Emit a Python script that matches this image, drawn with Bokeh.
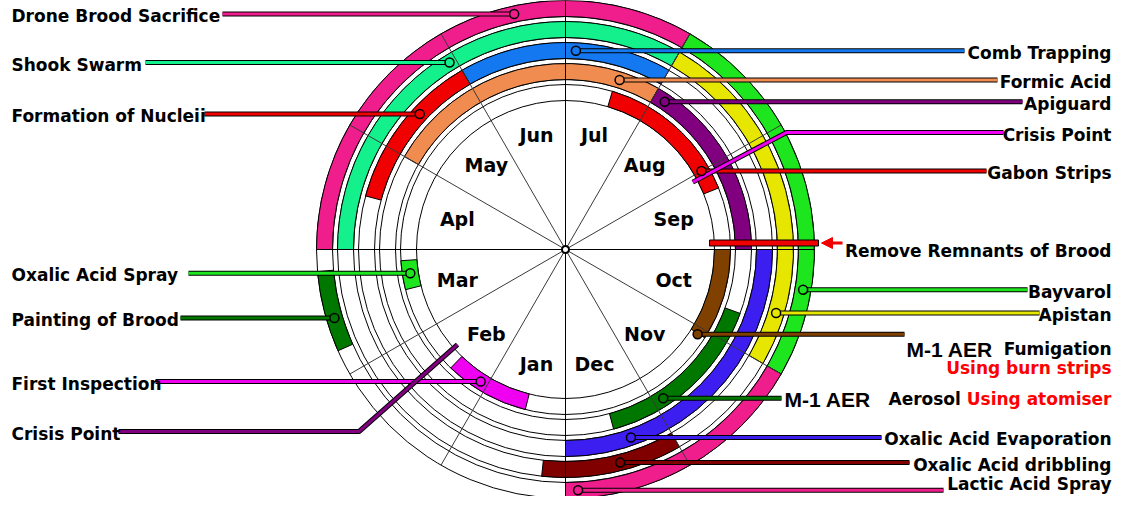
import math
from bokeh.plotting import figure
from bokeh.models import Range1d, Arrow, NormalHead
from bokeh.core.properties import value
from bokeh.embed import file_html
from bokeh.resources import INLINE

# ---------------- data ----------------
# month positions: 0 = 1 Jan, 12 = 31 Dec (fractional months)
months = ["Jan", "Feb", "Mar", "Apl", "May", "Jun", "Jul", "Aug", "Sep", "Oct", "Nov", "Dec"]

treatments = ["Drone Brood Sacrifice", "Bayvarol", "Lactic Acid Spray", "Painting of Brood",
              "Shook Swarm", "Apistan", "Oxalic Acid dribbling",
              "Comb Trapping", "Formation of Nucleii", "Oxalic Acid Evaporation",
              "Formic Acid", "Apiguard", "M-1 AER Aerosol",
              "Gabon Strips", "M-1 AER Fumigation", "First Inspection", "Oxalic Acid Spray"]
ring = [1, 1, 1, 1,
        2, 2, 2,
        3, 3, 3,
        4, 4, 4,
        5, 5, 5, 5]
start_month = [3.0, 7.0, 10.0, 2.2,
               3.0, 7.0, 11.0,
               5.0, 3.5, 9.0,
               4.0, 7.0, 9.67,
               6.55, 9.0, 0.47, 2.53]
end_month = [7.0, 10.0, 12.0, 2.83,
             7.0, 10.0, 12.2,
             7.0, 5.0, 12.0,
             7.0, 9.0, 11.5,
             8.27, 10.08, 1.47, 2.87]
colors = ["#F01E8C", "#1EE61E", "#F01E8C", "#007800",
          "#14F08C", "#E6E600", "#800000",
          "#1478F0", "#F00000", "#3C1EF0",
          "#F08C50", "#800080", "#007800",
          "#F00000", "#804000", "#F000F0", "#1EE61E"]

crisis_month = [1.62, 8.07]
crisis_color = ["#800080", "#F000F0"]
remnant_month = 9.0

# ---------------- layout ----------------
W, H = 1113, 496
VIEW_X, VIEW_Y = 0, 13
CX, CY = 565, 262
R_OUT = 249
RING_STEP = 21
BAND = 16
RIGHT_X = 1111
RS = -9  # shift for right-side annotations


def ring_outer(k):
    return R_OUT - RING_STEP * (k - 1)


def ring_mid(k):
    return ring_outer(k) - BAND / 2


def theta(m):
    return math.radians(180 + 30 * m)


def polar(r, m):
    t = theta(m)
    return CX + r * math.sin(t), -(CY - r * math.cos(t))


def ang(m):
    return math.radians(-90 - 30 * m)


p = figure(width=W, height=H, x_range=Range1d(VIEW_X, VIEW_X + W),
           y_range=Range1d(-(VIEW_Y + H), -VIEW_Y),
           toolbar_location=None, output_backend="svg", min_border=0,
           x_axis_location=None, y_axis_location=None)
p.outline_line_color = None
p.grid.visible = False
p.background_fill_color = "white"
p.border_fill_color = "white"

# concentric thin circles
radii = []
for k in range(1, 6):
    radii += [ring_outer(k), ring_outer(k) - BAND]
p.circle(x=[CX] * len(radii), y=[-CY] * len(radii), radius=radii,
         fill_color=None, line_color="black", line_width=1)

# treatment bands
idx = list(range(len(treatments)))
p.annular_wedge(x=[CX] * len(idx), y=[-CY] * len(idx),
                inner_radius=[ring_outer(ring[i]) - BAND for i in idx],
                outer_radius=[ring_outer(ring[i]) for i in idx],
                start_angle=[ang(start_month[i]) for i in idx],
                end_angle=[ang(end_month[i]) for i in idx],
                direction="clock", fill_color=[colors[i] for i in idx],
                line_color="black", line_width=1)

# radial month dividers
xs0, ys0, xs1, ys1, lc = [], [], [], [], []
for j in range(12):
    x1, y1 = polar(R_OUT, j)
    xs0.append(CX); ys0.append(-CY); xs1.append(x1); ys1.append(y1)
    lc.append("black" if j % 3 == 0 else "#3a3a3a")
p.segment(x0=xs0, y0=ys0, x1=xs1, y1=ys1, line_color=lc, line_width=1)
p.scatter(x=[CX], y=[-CY], size=7, marker="circle", fill_color="white",
          line_color="black", line_width=2)

# month labels
mx, my = [], []
for j in range(12):
    t = theta(j + 0.5)
    mx.append(CX + 112 * math.sin(t))
    my.append(-(CY - 119 * math.cos(t)))
p.text(x=mx, y=my, text=months, text_font=value("DejaVu Sans"), text_font_style="bold",
       text_font_size="19px", text_align="center", text_baseline="middle", text_color="black")

FONT = value("DejaVu Sans")


def leader(points, color):
    xs = [q[0] for q in points]
    ys = [q[1] for q in points]
    p.line(xs, ys, line_color="black", line_width=5)
    p.line(xs, ys, line_color=color, line_width=3)


def label(x, y, txt, align, size="17px", color="black", font=FONT, style="bold"):
    p.text(x=[x], y=[y], text=[txt], text_font=font, text_font_style=style,
           text_font_size=size, text_align=align, text_baseline="alphabetic",
           text_color=color)


left_leaders = [("Drone Brood Sacrifice", 5.59, 222),
                ("Shook Swarm", 4.94, 145),
                ("Formation of Nucleii", 4.43, 204),
                ("Oxalic Acid Spray", 2.71, 188),
                ("Painting of Brood", 2.45, 180),
                ("First Inspection", 1.09, 155)]
right_leaders = [("Comb Trapping", 6.10, 973),
                 ("Formic Acid", 6.59, 1006),
                 ("Apiguard", 7.13, 1031),
                 ("Gabon Strips", 8.00, 995),
                 ("Bayvarol", 9.32, 1036),
                 ("Apistan", 9.56, 1048),
                 ("Oxalic Acid Evaporation", 11.36, 890),
                 ("Oxalic Acid dribbling", 11.52, 918),
                 ("Lactic Acid Spray", 11.90, 952)]
special = [("M-1 AER Fumigation", 10.09, 913), ("M-1 AER Aerosol", 10.89, 790)]

anchors = []
for name, m, xe in left_leaders:
    i = treatments.index(name)
    ax, ay = polar(ring_mid(ring[i]), m)
    leader([(ax, ay), (xe, ay)], colors[i])
    anchors.append((ax, ay, colors[i]))
    label(11, ay - 2, name, "left")

for name, m, xe in right_leaders + special:
    i = treatments.index(name)
    ax, ay = polar(ring_mid(ring[i]), m)
    leader([(ax, ay), (xe + RS, ay)], colors[i])
    anchors.append((ax, ay, colors[i]))
    if name == "M-1 AER Fumigation":
        label(915 + RS, ay - 15, "M-1 AER", "left", size="21px", font=value("Liberation Sans"))
        label(RIGHT_X, ay - 15, "Fumigation", "right")
        label(RIGHT_X, ay - 34, "Using burn strips", "right", color="#FF0000")
    elif name == "M-1 AER Aerosol":
        label(793 + RS, ay - 1, "M-1 AER", "left", size="21px", font=value("Liberation Sans"))
        label(897 + RS, ay - 1, "Aerosol", "left")
        label(RIGHT_X, ay - 1, "Using atomiser", "right", color="#FF0000")
    elif name == "Lactic Acid Spray":
        label(RIGHT_X, ay + 6, name, "right")
    else:
        label(RIGHT_X, ay - 2, name, "right")

# crisis points
crisis_y = [-444, -145]
crisis_end = [118, 1012 + RS]
for m, c, yl, xe in zip(crisis_month, crisis_color, crisis_y, crisis_end):
    x0, y0 = polar(144, m)
    t = theta(m)
    r_out = (CY + yl) / math.cos(t)
    x1, y1 = polar(r_out, m)
    leader([(x0, y0), (x1, yl), (xe, yl)], c)
label(11, -446, "Crisis Point", "left")
label(RIGHT_X, -147, "Crisis Point", "right")

# remove remnants of brood bar
bx0, by0 = polar(144, remnant_month)
bx1, _ = polar(253, remnant_month)
p.quad(left=[bx0], right=[bx1], top=[by0 + 9.5], bottom=[by0 + 3.5],
       fill_color="#F00000", line_color="black", line_width=1)
p.add_layout(Arrow(end=NormalHead(size=11, fill_color="#F00000", line_color="#F00000"),
                   x_start=842, y_start=by0 + 6.5, x_end=821, y_end=by0 + 6.5,
                   line_color="#F00000", line_width=3))
label(RIGHT_X, -263, "Remove Remnants of Brood", "right")

# anchor circles
p.scatter(x=[a[0] for a in anchors], y=[a[1] for a in anchors], size=9, marker="circle",
          fill_color=[a[2] for a in anchors], line_color="black", line_width=1.5)

open("out.html", "w").write(file_html(p, INLINE))
